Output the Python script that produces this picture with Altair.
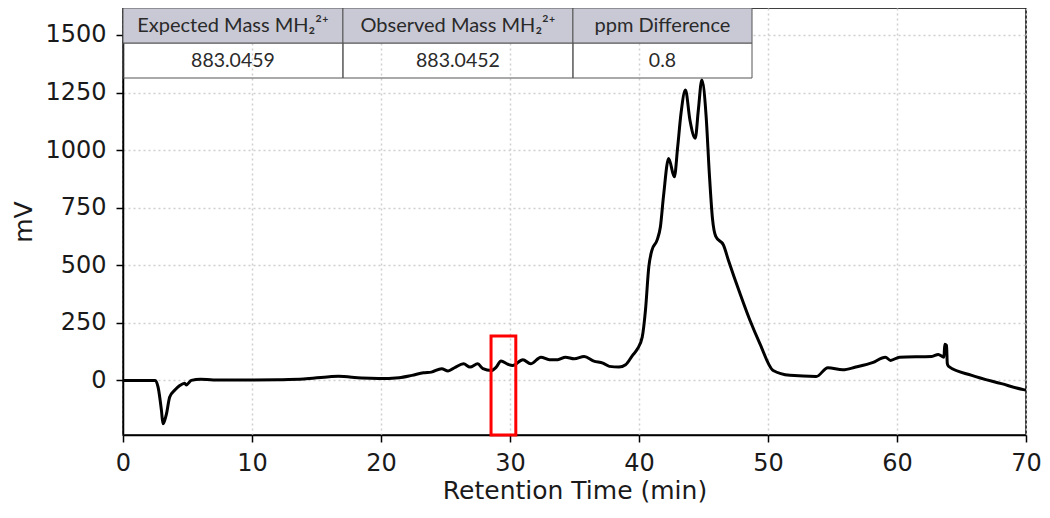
import altair as alt
import pandas as pd

# ---- chromatogram trace ----
time_min = [0.0, 1.0, 2.0, 2.5, 2.72, 2.98, 3.1, 3.25, 3.37, 3.62, 4.0, 4.4, 4.78, 4.9, 5.3,
            6.0, 7.0, 8.0, 10.0, 12.0, 14.0, 16.0, 16.7, 18.5, 19.8, 21.4, 22.4, 23.3, 23.9,
            24.7, 25.2, 25.7, 26.4, 26.9, 27.5, 27.9, 28.55, 28.94, 29.3, 29.84, 30.2, 31.0,
            31.6, 32.4, 33.05, 33.7, 34.3, 34.98, 35.75, 36.5, 37.2, 37.7, 38.45, 38.96, 39.5,
            39.86, 40.25, 40.5, 40.76, 41.0, 41.4, 41.66, 41.9, 42.3, 42.74, 43.0, 43.26, 43.6,
            43.95, 44.36, 44.6, 44.87, 45.2, 45.45, 45.7, 45.95, 46.55, 46.93, 47.83, 48.6,
            49.37, 50.4, 51.7, 53.74, 54.64, 55.8, 56.8, 58.1, 59.1, 59.5, 60.2, 62.7, 63.2,
            63.64, 63.7, 63.84, 63.9, 64.0, 65.8, 68.1, 69.8, 70.0]
signal_mv = [0, 0, 0, 0, -29, -130, -188, -170, -145, -72, -43, -22, -12, -20, 0,
             5, 2, 2, 2, 3, 6, 16, 18, 10, 8, 12, 22, 33, 36,
             51, 41, 55, 72, 58, 72, 51, 43, 58, 84, 70, 65, 90,
             72, 101, 90, 90, 101, 94, 104, 84, 75, 61, 58, 68, 109,
             135, 188, 304, 493, 565, 609, 667, 800, 964, 884, 1015, 1161, 1261,
             1130, 1051, 1174, 1304, 1150, 900, 700, 625, 587, 522, 377, 261,
             160, 43, 22, 17, 55, 46, 58, 77, 101, 87, 101, 104, 113,
             101, 157, 152, 73, 61, 22, -14, -40, -42]

x_ticks = [0, 10, 20, 30, 40, 50, 60, 70]
y_ticks = [0, 250, 500, 750, 1000, 1250, 1500]

table_headers = ["Expected Mass MH\u2082\u00b2\u207a", "Observed Mass MH\u2082\u00b2\u207a", "ppm Difference"]
table_values = ["883.0459", "883.0452", "0.8"]

# ---- layout (data-space positions for the overlays) ----
X_DOMAIN = [0, 70]
Y_DOMAIN = [-237, 1617]
col_edges = [0, 17.05, 34.88, 48.76]
row_edges = [1617, 1465, 1313]
box_x = [28.53, 30.45]
box_y = [193, -237]

trace = pd.DataFrame({"t": time_min, "v": signal_mv})

col_centres = [(a + b) / 2 for a, b in zip(col_edges[:-1], col_edges[1:])]
hdr_cells = pd.DataFrame({"t": col_edges[:-1], "t2": col_edges[1:],
                          "v": [row_edges[0]] * 3, "v2": [row_edges[1]] * 3})
val_cells = pd.DataFrame({"t": col_edges[:-1], "t2": col_edges[1:],
                          "v": [row_edges[1]] * 3, "v2": [row_edges[2]] * 3})
hdr_lab = pd.DataFrame({"t": col_centres, "v": [(row_edges[0] + row_edges[1]) / 2] * 3,
                        "label": table_headers})
val_lab = pd.DataFrame({"t": col_centres, "v": [(row_edges[1] + row_edges[2]) / 2] * 3,
                        "label": table_values})
box = pd.DataFrame({"t": [box_x[0]], "t2": [box_x[1]], "v": [box_y[0]], "v2": [box_y[1]]})

xs = alt.Scale(domain=X_DOMAIN, nice=False, zero=False)
ys = alt.Scale(domain=Y_DOMAIN, nice=False, zero=False)
XT = "Retention Time (min)"
YT = "mV"

line = alt.Chart(trace).mark_line(color="black", strokeWidth=3, interpolate="monotone", clip=True).encode(
    x=alt.X("t:Q", scale=xs, title=XT,
            axis=alt.Axis(values=x_ticks, format="d", labelFlush=False, labelPadding=9, titlePadding=3)),
    y=alt.Y("v:Q", scale=ys, title=YT,
            axis=alt.Axis(values=y_ticks, format="d", labelFlush=False, labelPadding=10, titlePadding=8)),
)

def cells(df, fill, opacity):
    return alt.Chart(df).mark_rect(fill=fill, fillOpacity=opacity, stroke="#555555", strokeWidth=1).encode(
        x=alt.X("t:Q", scale=xs, title=XT), x2="t2:Q",
        y=alt.Y("v:Q", scale=ys, title=YT), y2="v2:Q",
    )

def labels(df, size):
    return alt.Chart(df).mark_text(font="Lato", fontSize=size, color="#2a2a2a").encode(
        x=alt.X("t:Q", scale=xs, title=XT), y=alt.Y("v:Q", scale=ys, title=YT), text="label:N",
    )

val_rect = cells(val_cells, "white", 0)
hdr_rect = cells(hdr_cells, "#c9c9d6", 1)
red_box = alt.Chart(box).mark_rect(fill="white", fillOpacity=0, stroke="#ff0000", strokeWidth=3).encode(
    x=alt.X("t:Q", scale=xs, title=XT), x2="t2:Q",
    y=alt.Y("v:Q", scale=ys, title=YT), y2="v2:Q",
)

chart = alt.layer(line, val_rect, hdr_rect, labels(hdr_lab, 20), labels(val_lab, 19.5), red_box).properties(
    width=903, height=427,
    background="white",
    autosize=alt.AutoSizeParams(type="none"),
    padding={"left": 115, "top": 0, "right": 16, "bottom": 70},
).configure_view(
    stroke="black", strokeWidth=1.5
).configure_axis(
    labelFont="DejaVu Sans", labelFontSize=24, labelColor="#1a1a1a",
    titleFont="DejaVu Sans", titleFontSize=25, titleFontWeight="normal", titleColor="#1a1a1a",
    tickColor="black", tickSize=7, tickWidth=1.5,
    domainColor="black", domainWidth=1.5,
    grid=True, gridColor="#cfcfcf", gridDash=[2, 3], gridWidth=1.5,
)

chart.save("out.html", embed_options={"renderer": "svg", "actions": False})
